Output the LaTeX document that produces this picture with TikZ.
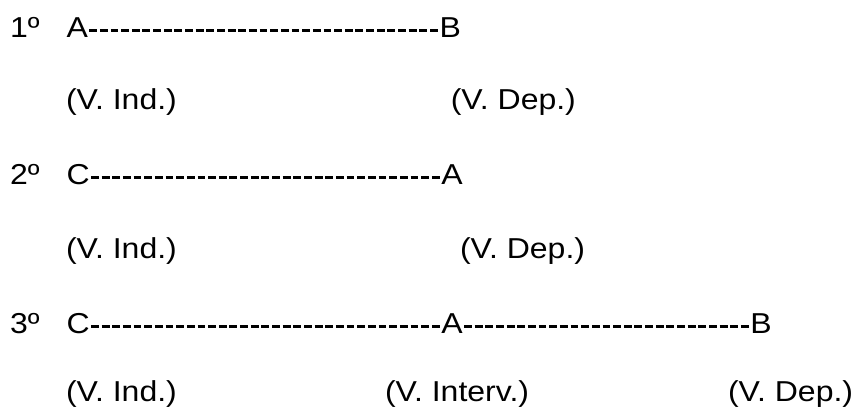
\documentclass[tikz,border=0pt]{standalone}
\usepackage{fontspec}
\setmainfont{Liberation Sans}
\newcommand{\squash}[1]{\scalebox{1}[0.9]{#1}}
\begin{document}
\begin{tikzpicture}[x=1pt,y=1pt,
  txt/.style={font=\fontsize{32}{38}\selectfont, inner sep=0pt, outer sep=0pt, anchor=base west},
  hy/.style={line width=2.7pt, dash pattern=on 7.85pt off 2.8pt, dash phase=9.25pt}]
\useasboundingbox (0,0) rectangle (859,411);
% row 1
\node[txt] (n1) at (10,373) {\squash{1º}};
\node[txt] (a1) at (66.5,373) {\squash{A}};
\node[txt] (b1) at (439.5,373) {\squash{B}};
\draw[hy] ([yshift=7.5pt]a1.base east) -- ([yshift=7.5pt]b1.base west);
% row 2
\node[txt] (i1) at (66,301) {\squash{(V. Ind.)}};
\node[txt] (d1) at (450.8,301) {\squash{(V. Dep.)}};
% row 3
\node[txt] (n2) at (10,226) {\squash{2º}};
\node[txt] (c2) at (66.5,226) {\squash{C}};
\node[txt] (a2) at (441.3,226) {\squash{A}};
\draw[hy] ([yshift=7.5pt]c2.base east) -- ([yshift=7.5pt]a2.base west);
% row 4
\node[txt] (i2) at (66,152) {\squash{(V. Ind.)}};
\node[txt] (d2) at (460,152) {\squash{(V. Dep.)}};
% row 5
\node[txt] (n3) at (10,77) {\squash{3º}};
\node[txt] (c3) at (66.5,77) {\squash{C}};
\node[txt] (a3) at (441.3,77) {\squash{A}};
\node[txt] (b3) at (750.3,77) {\squash{B}};
\draw[hy] ([yshift=7.5pt]c3.base east) -- ([yshift=7.5pt]a3.base west);
\draw[hy] ([yshift=7.5pt]a3.base east) -- ([yshift=7.5pt]b3.base west);
% row 6
\node[txt] (i3) at (66,9) {\squash{(V. Ind.)}};
\node[txt] (v3) at (385,9) {\squash{(V. Interv.)}};
\node[txt] (d3) at (728,9) {\squash{(V. Dep.)}};
\end{tikzpicture}
\end{document}
